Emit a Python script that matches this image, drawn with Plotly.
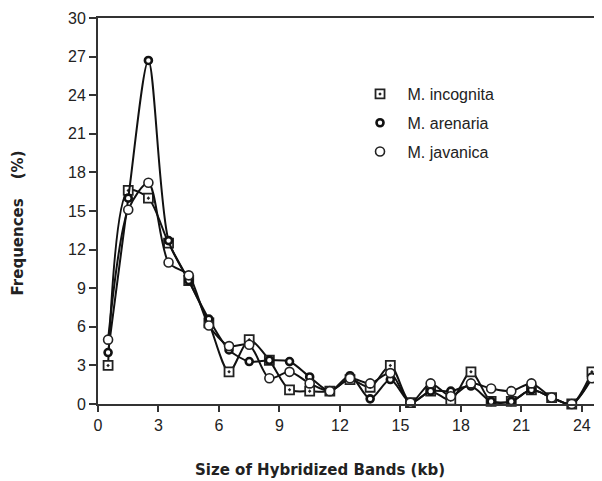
import plotly.graph_objects as go

sizes_kb = [0.5, 1.5, 2.5, 3.5, 4.5, 5.5, 6.5, 7.5, 8.5, 9.5, 10.5, 11.5, 12.5,
            13.5, 14.5, 15.5, 16.5, 17.5, 18.5, 19.5, 20.5, 21.5, 22.5, 23.5, 24.5]
incognita = [3.0, 16.6, 16.0, 12.5, 9.6, 6.3, 2.5, 5.0, 3.4, 1.1, 1.0, 1.0, 1.9,
             1.3, 3.0, 0.1, 1.0, 0.3, 2.5, 0.2, 0.2, 1.1, 0.5, 0.0, 2.5]
arenaria = [4.0, 16.0, 26.7, 12.7, 9.6, 6.6, 4.2, 3.3, 3.4, 3.3, 2.1, 1.0, 2.2,
            0.4, 1.9, 0.1, 1.0, 1.0, 1.4, 0.2, 0.2, 1.1, 0.5, 0.0, 2.1]
javanica = [5.0, 15.1, 17.2, 11.0, 10.0, 6.1, 4.5, 4.6, 2.0, 2.5, 1.6, 1.0, 2.0,
            1.6, 2.4, 0.1, 1.6, 0.6, 1.6, 1.2, 1.0, 1.6, 0.5, 0.0, 2.0]

names = ["M. incognita", "M. arenaria", "M. javanica"]
x_ticks = [0, 3, 6, 9, 12, 15, 18, 21, 24]
y_ticks = [0, 3, 6, 9, 12, 15, 18, 21, 24, 27, 30]

styles = [
    dict(symbol="square-dot", size=9, color="white", line=dict(color="#222", width=1.8)),
    dict(symbol="circle", size=7, color="white", line=dict(color="#111", width=2.6)),
    dict(symbol="circle", size=9, color="white", line=dict(color="#222", width=1.6)),
]

fig = go.Figure()
for name, ys, st in zip(names, [incognita, arenaria, javanica], styles):
    fig.add_trace(go.Scatter(
        x=sizes_kb, y=ys, mode="lines+markers", name=name, showlegend=False,
        line=dict(color="#111", width=2, shape="spline", smoothing=0.8),
        marker=st, cliponaxis=False))
for i, (name, st) in enumerate(zip(names, styles)):
    fig.add_trace(go.Scatter(
        x=[None], y=[None], mode="markers", name=name, legendgroup=str(i),
        marker=st))

font = "Liberation Sans, Arial, Helvetica, sans-serif"
title_font = dict(family="DejaVu Sans, sans-serif", size=15, color="#222")
# page body adds an 8px offset, so the figure is drawn 8px smaller/earlier
fig.update_layout(
    width=594, height=473,
    margin=dict(l=90, r=0, t=10, b=77, autoexpand=False),
    paper_bgcolor="white", plot_bgcolor="white",
    font=dict(family=font, size=16, color="#222"),
    showlegend=True,
    legend=dict(x=0.505, y=0.847, xanchor="left", yanchor="top",
                font=dict(size=16, color="#222"), tracegroupgap=5,
                itemwidth=45, bgcolor="rgba(0,0,0,0)"),
    xaxis=dict(range=[0, 25], tickvals=x_ticks, ticks="outside", ticklen=6,
               tickwidth=1.5, tickcolor="#333", showline=True, linecolor="#333",
               linewidth=2, mirror=True, showgrid=False, zeroline=False,
               automargin=False),
    yaxis=dict(range=[0, 30], tickvals=y_ticks, ticks="outside", ticklen=7,
               tickwidth=1.5, tickcolor="#333", showline=True, linecolor="#333",
               linewidth=2, showgrid=False, zeroline=False, automargin=False),
    annotations=[
        dict(text="<b>Size of Hybridized Bands (kb)</b>", xref="paper", yref="paper",
             x=0.44, y=-0.171, xanchor="center", yanchor="middle",
             showarrow=False, font=title_font),
        dict(text="<b>Frequences</b>\u00a0\u00a0\u00a0\u00a0<b>(%)</b>", xref="paper",
             yref="paper", x=-0.159, y=0.47, xanchor="center", yanchor="middle",
             textangle=-90, showarrow=False, font=title_font),
    ],
)
# left stub of the x axis line past the y axis
fig.add_shape(type="line", xref="paper", yref="paper", x0=-0.016, x1=0, y0=0, y1=0,
              line=dict(color="#333", width=2))
fig.write_html("out.html")
